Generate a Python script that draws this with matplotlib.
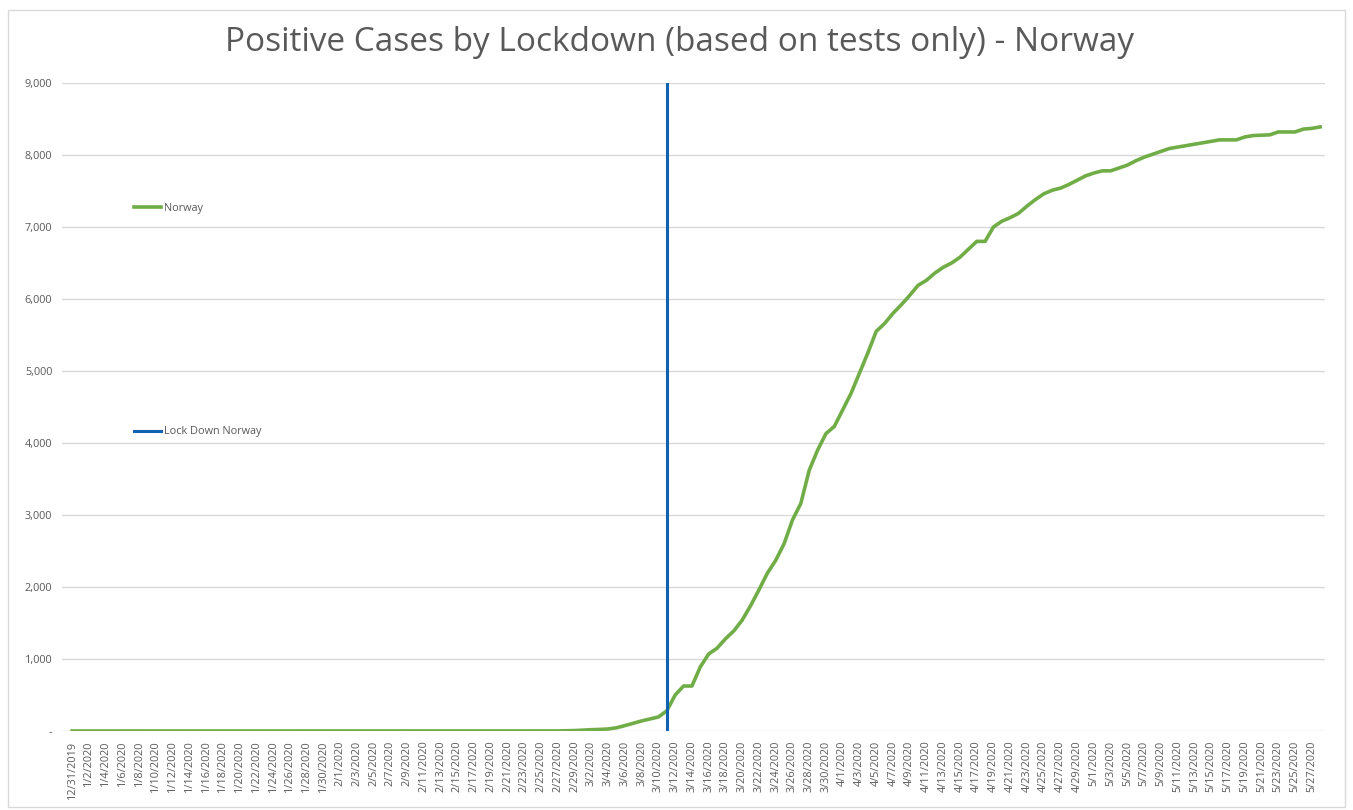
import numpy as np
import pandas as pd
import matplotlib
matplotlib.use("Agg")
import matplotlib.pyplot as plt
from matplotlib.patches import Rectangle

# daily cumulative positive cases, 12/31/2019 .. 5/28/2020
dates = pd.date_range("2019-12-31", "2020-05-28", freq="D")
cases = [0] * 57 + [
    1, 1, 4, 6, 12, 18, 22, 28, 45, 75,
    108, 140, 168, 195, 280, 500, 625, 625, 890, 1070,
    1150, 1280, 1390, 1540, 1740, 1960, 2190, 2370, 2600, 2930,
    3160, 3620, 3900, 4130, 4230, 4460, 4690, 4970, 5250, 5550,
    5660, 5800, 5920, 6050, 6190, 6260, 6360, 6440, 6500, 6580,
    6690, 6800, 6800, 7000, 7080, 7130, 7190, 7290, 7380, 7460,
    7510, 7540, 7590, 7650, 7710, 7750, 7780, 7780, 7820, 7860,
    7920, 7970, 8010, 8050, 8090, 8110, 8130, 8150, 8170, 8190,
    8210, 8210, 8210, 8250, 8270, 8275, 8280, 8320, 8320, 8320,
    8360, 8370, 8390,
]
lockdown_date = pd.Timestamp("2020-03-11")
yticks = [0, 1000, 2000, 3000, 4000, 5000, 6000, 7000, 8000, 9000]

title = "Positive Cases by Lockdown (based on tests only) - Norway"
grey = "#595959"

plt.rcParams["font.family"] = ["Open Sans", "DejaVu Sans"]

fig = plt.figure(figsize=(13.53, 8.10), dpi=100)
ax = fig.add_axes([62 / 1353, 1 - 731 / 810, (1325 - 62) / 1353, (731 - 83) / 810])

norway_line, = ax.plot(dates, cases, color="#70AD47", lw=2.6, label="Norway")
lock_line = ax.axvline(lockdown_date, color="#0F63B2", lw=2.2, label="Lock Down Norway")

ax.set_ylim(0, 9000)
ax.set_xlim(dates[0] - pd.Timedelta(hours=29), dates[-1] + pd.Timedelta(hours=14))
ax.set_yticks(yticks)
ax.set_yticklabels(["-" if v == 0 else f"{v:,}" for v in yticks])
xt = dates[::2]
ax.set_xticks(xt)
ax.set_xticklabels([f"{d.month}/{d.day}/{d.year}" for d in xt], rotation=90)
ax.tick_params(axis="both", length=0, labelsize=7.8, colors=grey)
ax.tick_params(axis="y", pad=7)
ax.tick_params(axis="x", pad=7)

ax.grid(axis="y", color="#D9D9D9", lw=1)
ax.set_axisbelow(True)
for s in ax.spines.values():
    s.set_visible(False)

fig.text(0.502, 0.948, title, ha="center", va="center", fontsize=24,
         color=grey)

fig.legend(handles=[norway_line, lock_line], loc="upper left",
           bbox_to_anchor=(134 / 1353, 1 - 203 / 810), frameon=False,
           fontsize=7.8, labelcolor=grey, handlelength=2.5, handletextpad=0.3,
           labelspacing=19.6, borderpad=0, borderaxespad=0)

fig.patches.append(Rectangle((8 / 1353, 3 / 810), 1337 / 1353, 797 / 810,
                             transform=fig.transFigure, fill=False,
                             edgecolor="#D9D9D9", lw=1))

fig.savefig("out.png", dpi=100)
